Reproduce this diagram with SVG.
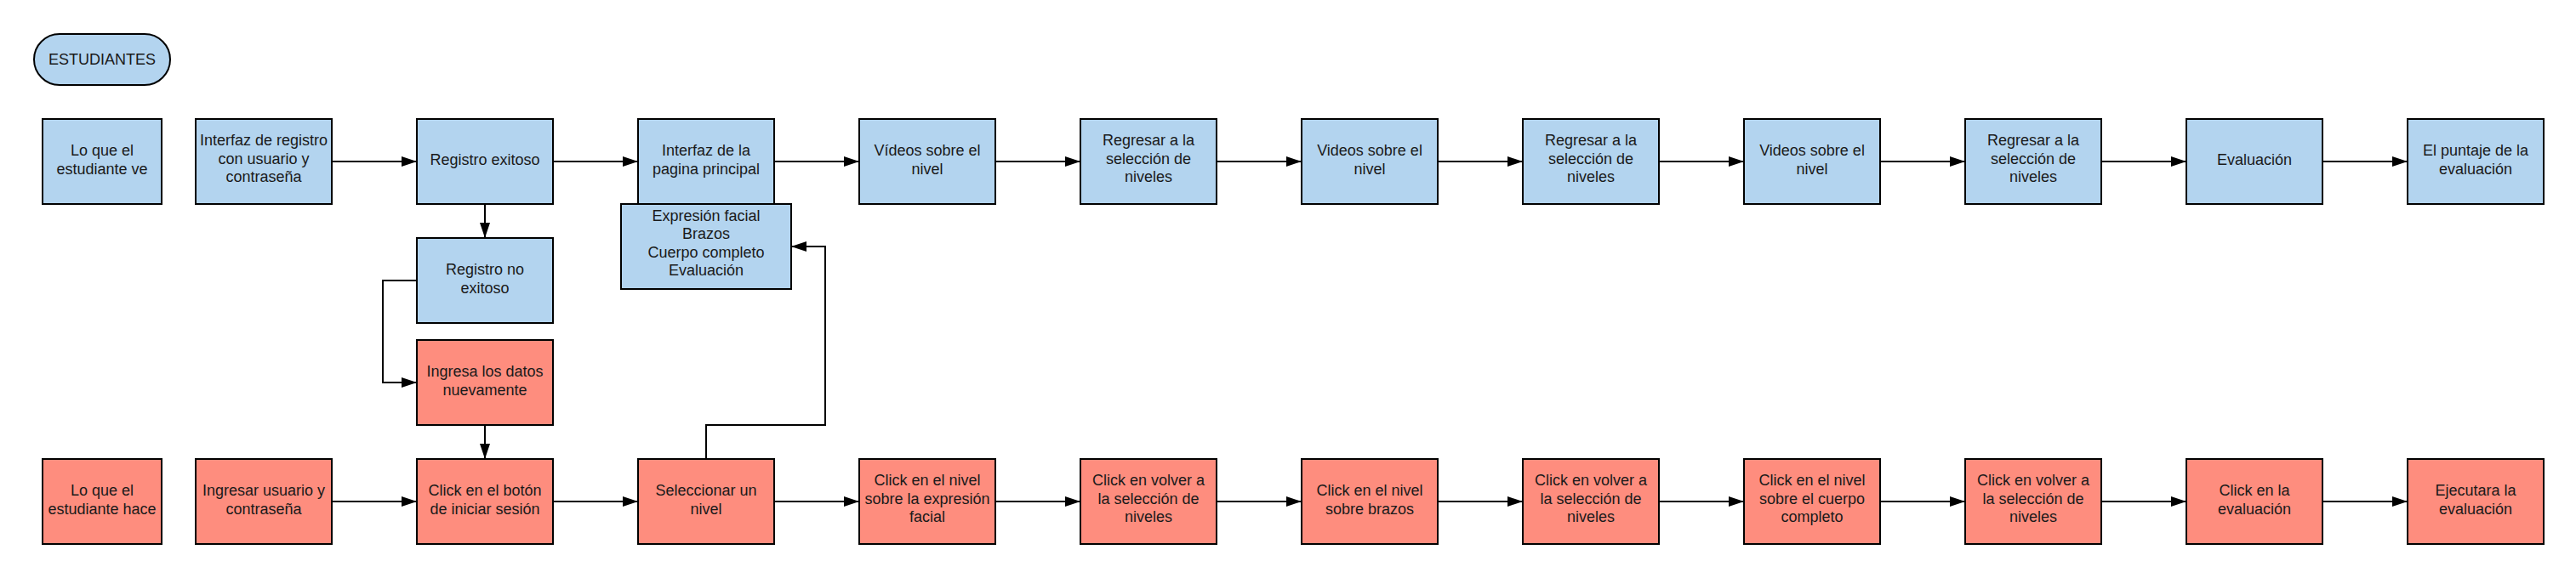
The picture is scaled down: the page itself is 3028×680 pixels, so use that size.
<svg xmlns="http://www.w3.org/2000/svg" width="3028" height="680" viewBox="0 0 3028 680">
<style>
.b{fill:#b3d4ef;stroke:#000;stroke-width:2}
.r{fill:#fe8d7e;stroke:#000;stroke-width:2}
text{font-family:"Liberation Sans",Arial,sans-serif;font-size:18px;text-anchor:middle;fill:#1a1a1a}
.c{fill:none;stroke:#000;stroke-width:2}
</style>
<defs>
<marker id="ah" markerUnits="userSpaceOnUse" markerWidth="18" markerHeight="12" refX="18" refY="6" orient="auto">
<path d="M0,0 L18,6 L0,12 z" fill="#000"/>
</marker>
</defs>
<rect width="3028" height="680" fill="#fff"/>
<g id="connectors">
<path class="c" marker-end="url(#ah)" d="M390,190 H490"/>
<path class="c" marker-end="url(#ah)" d="M650,190 H750"/>
<path class="c" marker-end="url(#ah)" d="M910,190 H1010"/>
<path class="c" marker-end="url(#ah)" d="M1170,190 H1270"/>
<path class="c" marker-end="url(#ah)" d="M1430,190 H1530"/>
<path class="c" marker-end="url(#ah)" d="M1690,190 H1790"/>
<path class="c" marker-end="url(#ah)" d="M1950,190 H2050"/>
<path class="c" marker-end="url(#ah)" d="M2210,190 H2310"/>
<path class="c" marker-end="url(#ah)" d="M2470,190 H2570"/>
<path class="c" marker-end="url(#ah)" d="M2730,190 H2830"/>
<path class="c" marker-end="url(#ah)" d="M390,590 H490"/>
<path class="c" marker-end="url(#ah)" d="M650,590 H750"/>
<path class="c" marker-end="url(#ah)" d="M910,590 H1010"/>
<path class="c" marker-end="url(#ah)" d="M1170,590 H1270"/>
<path class="c" marker-end="url(#ah)" d="M1430,590 H1530"/>
<path class="c" marker-end="url(#ah)" d="M1690,590 H1790"/>
<path class="c" marker-end="url(#ah)" d="M1950,590 H2050"/>
<path class="c" marker-end="url(#ah)" d="M2210,590 H2310"/>
<path class="c" marker-end="url(#ah)" d="M2470,590 H2570"/>
<path class="c" marker-end="url(#ah)" d="M2730,590 H2830"/>
<path class="c" marker-end="url(#ah)" d="M570,240 V280"/>
<path class="c" marker-end="url(#ah)" d="M490,330 H450 V450 H490"/>
<path class="c" marker-end="url(#ah)" d="M570,500 V540"/>
<path class="c" marker-end="url(#ah)" d="M830,540 V500 H970 V290 H930"/>
</g>
<g id="estudiantes"><rect class="b" x="40" y="40" width="160" height="60" rx="30"/><text x="120" y="76">ESTUDIANTES</text></g>
<g id="ve"><rect class="b" x="50" y="140" width="140" height="100"/><text x="120"><tspan x="120" y="183">Lo que el</tspan><tspan x="120" y="204.5">estudiante ve</tspan></text></g>
<g id="t1"><rect class="b" x="230" y="140" width="160" height="100"/><text><tspan x="310" y="171">Interfaz de registro</tspan><tspan x="310" y="192.5">con usuario y</tspan><tspan x="310" y="214">contraseña</tspan></text></g>
<g id="t2"><rect class="b" x="490" y="140" width="160" height="100"/><text x="570" y="194">Registro exitoso</text></g>
<g id="t3"><rect class="b" x="750" y="140" width="160" height="100"/><text><tspan x="830" y="183">Interfaz de la</tspan><tspan x="830" y="204.5">pagina principal</tspan></text></g>
<g id="t4"><rect class="b" x="1010" y="140" width="160" height="100"/><text><tspan x="1090" y="183">Vídeos sobre el</tspan><tspan x="1090" y="204.5">nivel</tspan></text></g>
<g id="t5"><rect class="b" x="1270" y="140" width="160" height="100"/><text><tspan x="1350" y="171">Regresar a la</tspan><tspan x="1350" y="192.5">selección de</tspan><tspan x="1350" y="214">niveles</tspan></text></g>
<g id="t6"><rect class="b" x="1530" y="140" width="160" height="100"/><text><tspan x="1610" y="183">Videos sobre el</tspan><tspan x="1610" y="204.5">nivel</tspan></text></g>
<g id="t7"><rect class="b" x="1790" y="140" width="160" height="100"/><text><tspan x="1870" y="171">Regresar a la</tspan><tspan x="1870" y="192.5">selección de</tspan><tspan x="1870" y="214">niveles</tspan></text></g>
<g id="t8"><rect class="b" x="2050" y="140" width="160" height="100"/><text><tspan x="2130" y="183">Videos sobre el</tspan><tspan x="2130" y="204.5">nivel</tspan></text></g>
<g id="t9"><rect class="b" x="2310" y="140" width="160" height="100"/><text><tspan x="2390" y="171">Regresar a la</tspan><tspan x="2390" y="192.5">selección de</tspan><tspan x="2390" y="214">niveles</tspan></text></g>
<g id="t10"><rect class="b" x="2570" y="140" width="160" height="100"/><text x="2650" y="194">Evaluación</text></g>
<g id="t11"><rect class="b" x="2830" y="140" width="160" height="100"/><text><tspan x="2910" y="183">El puntaje de la</tspan><tspan x="2910" y="204.5">evaluación</tspan></text></g>
<g id="noexitoso"><rect class="b" x="490" y="280" width="160" height="100"/><text><tspan x="570" y="323">Registro no</tspan><tspan x="570" y="344.5">exitoso</tspan></text></g>
<g id="menu"><rect class="b" x="730" y="240" width="200" height="100"/><text><tspan x="830" y="259.5">Expresión facial</tspan><tspan x="830" y="281">Brazos</tspan><tspan x="830" y="302.5">Cuerpo completo</tspan><tspan x="830" y="324">Evaluación</tspan></text></g>
<g id="ingresa"><rect class="r" x="490" y="400" width="160" height="100"/><text><tspan x="570" y="443">Ingresa los datos</tspan><tspan x="570" y="464.5">nuevamente</tspan></text></g>
<g id="hace"><rect class="r" x="50" y="540" width="140" height="100"/><text><tspan x="120" y="583">Lo que el</tspan><tspan x="120" y="604.5">estudiante hace</tspan></text></g>
<g id="b1"><rect class="r" x="230" y="540" width="160" height="100"/><text><tspan x="310" y="583">Ingresar usuario y</tspan><tspan x="310" y="604.5">contraseña</tspan></text></g>
<g id="b2"><rect class="r" x="490" y="540" width="160" height="100"/><text><tspan x="570" y="583">Click en el botón</tspan><tspan x="570" y="604.5">de iniciar sesión</tspan></text></g>
<g id="b3"><rect class="r" x="750" y="540" width="160" height="100"/><text><tspan x="830" y="583">Seleccionar un</tspan><tspan x="830" y="604.5">nivel</tspan></text></g>
<g id="b4"><rect class="r" x="1010" y="540" width="160" height="100"/><text><tspan x="1090" y="571">Click en el nivel</tspan><tspan x="1090" y="592.5">sobre la expresión</tspan><tspan x="1090" y="614">facial</tspan></text></g>
<g id="b5"><rect class="r" x="1270" y="540" width="160" height="100"/><text><tspan x="1350" y="571">Click en volver a</tspan><tspan x="1350" y="592.5">la selección de</tspan><tspan x="1350" y="614">niveles</tspan></text></g>
<g id="b6"><rect class="r" x="1530" y="540" width="160" height="100"/><text><tspan x="1610" y="583">Click en el nivel</tspan><tspan x="1610" y="604.5">sobre brazos</tspan></text></g>
<g id="b7"><rect class="r" x="1790" y="540" width="160" height="100"/><text><tspan x="1870" y="571">Click en volver a</tspan><tspan x="1870" y="592.5">la selección de</tspan><tspan x="1870" y="614">niveles</tspan></text></g>
<g id="b8"><rect class="r" x="2050" y="540" width="160" height="100"/><text><tspan x="2130" y="571">Click en el nivel</tspan><tspan x="2130" y="592.5">sobre el cuerpo</tspan><tspan x="2130" y="614">completo</tspan></text></g>
<g id="b9"><rect class="r" x="2310" y="540" width="160" height="100"/><text><tspan x="2390" y="571">Click en volver a</tspan><tspan x="2390" y="592.5">la selección de</tspan><tspan x="2390" y="614">niveles</tspan></text></g>
<g id="b10"><rect class="r" x="2570" y="540" width="160" height="100"/><text><tspan x="2650" y="583">Click en la</tspan><tspan x="2650" y="604.5">evaluación</tspan></text></g>
<g id="b11"><rect class="r" x="2830" y="540" width="160" height="100"/><text><tspan x="2910" y="583">Ejecutara la</tspan><tspan x="2910" y="604.5">evaluación</tspan></text></g>
</svg>
